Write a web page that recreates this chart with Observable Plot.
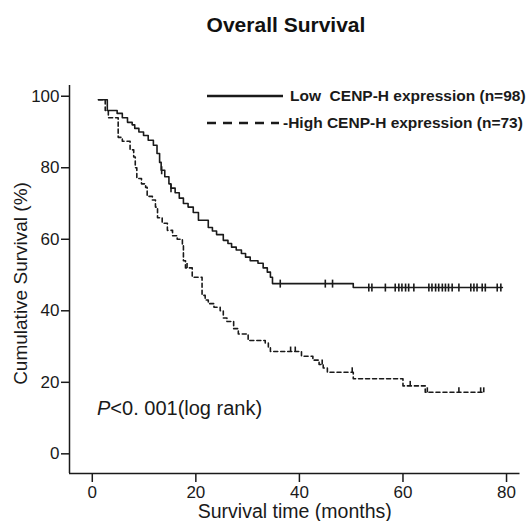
<!DOCTYPE html>
<html><head><meta charset="utf-8">
<script src="https://cdn.jsdelivr.net/npm/d3@7"></script>
<script src="https://cdn.jsdelivr.net/npm/@observablehq/plot@0.6"></script>
<style>
body{margin:0;background:#fff;font-family:"Liberation Sans",Arial,sans-serif;}
#title{height:50px;line-height:50px;text-align:center;font-weight:bold;font-size:21px;color:#111;padding-left:44px;}
#chart svg{display:block;}
</style></head><body>
<div id="title">Overall Survival</div>
<div id="chart"></div>
<script>
// ---- data ----
const xTicks = [0, 20, 40, 60, 80];
const yTicks = [0, 20, 40, 60, 80, 100];
const xDomain = [-4.4, 82.6];
const yDomain = [-5.5, 103];

const lowTime = [1.2, 2.9, 4.8, 5.8, 6.8, 7.7, 8.2, 9.0, 9.9, 10.8, 11.8, 12.5, 13.0, 13.3, 14.0, 14.8, 15.2, 16.0, 16.8, 17.6, 18.5, 19.5, 20.5, 22.4, 23.2, 24.0, 25.3, 26.2, 26.9, 27.8, 28.8, 29.6, 30.5, 32.0, 33.0, 33.8, 34.4, 34.8, 50.4, 79.2];
const lowSurv = [99, 96, 95.2, 94, 92.7, 92, 91, 90, 89, 87.7, 86.3, 84, 81.5, 79.3, 77.5, 75.5, 74.3, 73, 71.5, 70, 69, 67.5, 65.3, 63.3, 62.3, 61.3, 59.7, 58.8, 57.8, 57, 56, 55, 54, 53.3, 52, 50.8, 49.4, 47.6, 46.5, 46.5];
const lowCensor = [13.4, 15.2, 36.3, 45.0, 46.4, 53.4, 54.0, 56.6, 58.5, 59.2, 59.8, 60.5, 61.1, 62.1, 65.0, 65.6, 66.3, 66.9, 67.6, 68.2, 68.8, 69.5, 70.8, 73.1, 73.7, 74.3, 75.3, 75.9, 78.2, 78.9];

const highTime = [1.2, 2.5, 3.1, 5.0, 5.8, 7.3, 8.0, 8.3, 8.6, 9.5, 10.3, 10.6, 11.6, 12.2, 12.6, 13.5, 14.5, 15.5, 16.4, 17.4, 17.6, 18.0, 19.3, 21.2, 21.8, 22.4, 23.5, 24.7, 25.3, 26.0, 27.3, 28.2, 30.1, 33.4, 34.0, 34.4, 40.4, 42.6, 43.8, 44.6, 45.4, 50.4, 60.0, 64.3, 75.6];
const highSurv = [99, 96, 94, 88.5, 87.4, 85, 83, 80, 77, 75.5, 74.5, 72, 71, 69, 66, 64.5, 62.5, 61, 60, 58.5, 54, 52, 49.4, 44.3, 43, 42, 41, 40, 38, 37, 35, 33.5, 31.7, 31, 29.8, 28.6, 27.3, 26.2, 25, 24, 22.8, 21, 19, 17.2, 17.2];
const highCensor = [18.3, 38.3, 39.2, 44.4, 50.2, 61.4, 64.7, 70.8, 75.0, 75.6];

const lowLabel = "Low  CENP-H expression (n=98)";
const highLabel = "-High CENP-H expression (n=73)";
const xLabel = "Survival time (months)";
const yLabel = "Cumulative Survival (%)";

// ---- build tables ----
const lowData = lowTime.map((t, i) => ({t, s: lowSurv[i]}));
const highData = highTime.map((t, i) => ({t, s: highSurv[i]}));
function survAt(times, survs, t) {
  let s = survs[0];
  for (let i = 0; i < times.length; i++) if (times[i] <= t) s = survs[i];
  return s;
}
const lowCens = lowCensor.map(t => ({t, s: survAt(lowTime, lowSurv, t)}));
const highCens = highCensor.map(t => ({t, s: survAt(highTime, highSurv, t)}));

const vbar = {draw(ctx, size) { const r = Math.sqrt(size / Math.PI); ctx.moveTo(0, -r); ctx.lineTo(0, r); }};
const vbarUp = {draw(ctx, size) { const r = Math.sqrt(size / Math.PI); ctx.moveTo(0, -r); ctx.lineTo(0, 0); }};

const ink = "#1a1a1a";
const plot = Plot.plot({
  width: 528, height: 471,
  marginLeft: 69, marginRight: 8.5, marginTop: 35, marginBottom: 48,
  style: {fontFamily: "'Liberation Sans', Arial, sans-serif", fontSize: "17px", color: ink, background: "white", overflow: "visible"},
  x: {domain: xDomain},
  y: {domain: yDomain},
  marks: [
    Plot.axisX({ticks: xTicks, tickSize: 9, tickPadding: 3, label: null, fontSize: 17, strokeWidth: 1.5}),
    Plot.axisY({ticks: yTicks, tickSize: 8, tickPadding: 2, label: null, fontSize: 17, strokeWidth: 1.5}),
    Plot.ruleX([xDomain[0]], {stroke: ink, strokeWidth: 1.5}),
    Plot.ruleY([yDomain[0]], {stroke: ink, strokeWidth: 1.5}),
    Plot.text([xLabel], {frameAnchor: "bottom", dy: 38.5, textAnchor: "middle", lineAnchor: "middle", fontSize: 19.5, fill: ink}),
    Plot.text([yLabel], {frameAnchor: "left", dx: -49, dy: 4, rotate: -90, textAnchor: "middle", lineAnchor: "middle", fontSize: 19, fill: ink}),
    Plot.line(lowData, {x: "t", y: "s", curve: "step-after", stroke: ink, strokeWidth: 1.6}),
    Plot.line(highData, {x: "t", y: "s", curve: "step-after", stroke: ink, strokeWidth: 1.6, strokeDasharray: "4,3"}),
    Plot.dot(lowCens, {x: "t", y: "s", symbol: vbar, r: 4, fill: "none", stroke: ink, strokeWidth: 1.6}),
    Plot.dot(highCens, {x: "t", y: "s", symbol: vbarUp, r: 5, fill: "none", stroke: ink, strokeWidth: 1.6})
  ]
});
document.getElementById("chart").appendChild(plot);

// ---- legend and annotation ----
const svg = d3.select(plot);
const g = svg.append("g").attr("fill", ink).attr("text-anchor", "start")
  .style("font-family", "'Liberation Sans', Arial, sans-serif");
const rows = [{label: lowLabel, dash: null, y: 46, x: 290}, {label: highLabel, dash: "9,7", y: 73, x: 283}];
rows.forEach(r => {
  g.append("line").attr("x1", 207).attr("x2", r.dash ? 279 : 283).attr("y1", r.y).attr("y2", r.y)
    .attr("stroke", ink).attr("stroke-width", 2.5).attr("stroke-dasharray", r.dash);
  g.append("text").attr("x", r.x).attr("y", r.y).attr("dy", "0.35em").attr("font-size", 15.5)
    .attr("font-weight", "bold").attr("text-anchor", "start").text(r.label);
});
const pt = g.append("text").attr("x", 97).attr("y", 358).attr("dy", "0.35em").attr("font-size", 20).attr("text-anchor", "start");
pt.append("tspan").attr("font-style", "italic").text("P");
pt.append("tspan").text("<0. 001(log rank)");
</script></body></html>
